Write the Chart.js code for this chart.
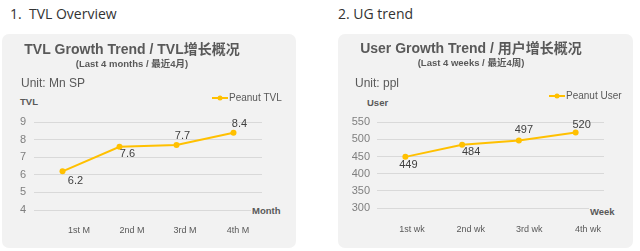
<!DOCTYPE html>
<html>
<head>
<meta charset="utf-8">
<script src="https://cdn.jsdelivr.net/npm/chart.js@4.4.1/dist/chart.umd.min.js"></script>
<style>
  html, body { margin: 0; padding: 0; background: #ffffff; }
  body { width: 640px; height: 251px; position: relative; overflow: hidden; }
  .heading { position: absolute; top: 4px; font-family: 'Open Sans', sans-serif; font-size: 14px; line-height: 20px; color: #333333; white-space: pre; }
  .panel { position: absolute; top: 34px; height: 214px; background: #f2f2f2; border-radius: 7px; }
  .panel canvas { position: absolute; left: 0; top: 0; }
  .txt { position: absolute; font-family: 'Liberation Sans', Arial, sans-serif; color: #595959; white-space: nowrap; }
  .unit { font-size: 12px; line-height: 14px; }
  .axt { font-size: 9.5px; line-height: 11px; font-weight: bold; background: #f2f2f2; padding: 0 1px; }
</style>
</head>
<body>
<div class="heading" style="left:10px;">1.  TVL Overview</div>
<div class="heading" style="left:338px;">2. UG trend</div>

<div class="panel" id="p1" style="left:2px; width:294px;">
  <canvas id="c1" width="300" height="214"></canvas>
  <div class="txt unit" style="left:19px; top:42px;">Unit: Mn SP</div>
  <div class="txt axt" style="left:17px; top:62px;">TVL</div>
  <div class="txt axt" style="left:249px; top:171px;">Month</div>
</div>

<div class="panel" id="p2" style="left:338px; width:295px;">
  <canvas id="c2" width="298" height="214"></canvas>
  <div class="txt unit" style="left:17px; top:42px;">Unit: ppl</div>
  <div class="txt axt" style="left:28px; top:63px;">User</div>
  <div class="txt axt" style="left:251px; top:172px;">Week</div>
</div>

<script>
// ---- data ----
const tvlCategories = ['1st M', '2nd M', '3rd M', '4th M'];
const tvlValues = [6.2, 7.6, 7.7, 8.4];
const tvlTicks = [4, 5, 6, 7, 8, 9];
const tvlSeriesName = 'Peanut TVL';

const userCategories = ['1st wk', '2nd wk', '3rd wk', '4th wk'];
const userValues = [449, 484, 497, 520];
const userTicks = [300, 350, 400, 450, 500, 550];
const userSeriesName = 'Peanut User';

// ---- style ----
const FONT = "'Liberation Sans', Arial, 'Noto Sans CJK SC', sans-serif";
const GOLD = '#FFC000';

const customPlugin = {
  id: 'custom',
  afterDatasetsDraw(chart, args, opts) {
    const ctx = chart.ctx;
    const meta = chart.getDatasetMeta(0);
    const ds = chart.data.datasets[0];
    ctx.save();
    // data labels
    ctx.font = '11px ' + FONT;
    ctx.fillStyle = '#404040';
    ctx.textAlign = 'center';
    ctx.textBaseline = 'middle';
    meta.data.forEach((pt, i) => {
      const off = opts.labelOffsets[i];
      ctx.fillText(String(ds.data[i]), pt.x + off[0], pt.y + off[1]);
    });
    // legend
    const lg = opts.legend;
    ctx.strokeStyle = GOLD;
    ctx.lineWidth = 2;
    ctx.beginPath();
    ctx.moveTo(lg.x, lg.y);
    ctx.lineTo(lg.x + lg.len, lg.y);
    ctx.stroke();
    ctx.fillStyle = GOLD;
    ctx.beginPath();
    ctx.arc(lg.x + lg.len / 2, lg.y, 2.5, 0, Math.PI * 2);
    ctx.fill();
    ctx.font = '10px ' + FONT;
    ctx.fillStyle = '#595959';
    ctx.textAlign = 'left';
    ctx.fillText(ds.label, lg.x + lg.len + 1, lg.y);
    ctx.restore();
  }
};

function makeChart(id, cfg) {
  const step = cfg.ticks[1] - cfg.ticks[0];
  return new Chart(document.getElementById(id), {
    type: 'line',
    data: {
      labels: cfg.categories,
      datasets: [{
        label: cfg.name,
        data: cfg.values,
        borderColor: GOLD,
        backgroundColor: GOLD,
        borderWidth: 2,
        pointRadius: 3,
        pointBorderWidth: 0,
        pointBackgroundColor: GOLD,
        tension: 0,
        clip: false
      }]
    },
    options: {
      responsive: false,
      animation: false,
      devicePixelRatio: 1,
      layout: { padding: { left: 0, right: cfg.padRight, top: 0, bottom: 0 } },
      plugins: {
        legend: { display: false },
        tooltip: { enabled: false },
        title: {
          display: true, text: cfg.title, color: '#595959',
          font: { family: FONT, size: 14, weight: 'bold' },
          padding: { top: cfg.titleTop, bottom: 0 }
        },
        subtitle: {
          display: true, text: cfg.subtitle, color: '#595959',
          font: { family: FONT, size: 9.5, weight: 'bold' },
          padding: { top: 0, bottom: cfg.subBottom }
        },
        custom: { labelOffsets: cfg.labelOffsets, legend: cfg.legend }
      },
      scales: {
        x: {
          type: 'category', offset: true,
          grid: { display: false, drawTicks: false },
          border: { display: false },
          ticks: { display: false },
          afterFit(s) { s.height = 0; }
        },
        xl: {
          type: 'linear', position: 'bottom', bounds: 'data',
          min: cfg.xlMin, max: cfg.xlMax,
          grid: { display: false, drawTicks: false },
          border: { display: false },
          afterBuildTicks(axis) { axis.ticks = cfg.categories.map((c, i) => ({ value: i + 1 })); },
          ticks: {
            autoSkip: false, maxRotation: 0, padding: cfg.xPad,
            color: '#595959', font: { family: FONT, size: 9 },
            callback: (v) => cfg.categories[v - 1]
          },
          afterFit(s) { s.height = cfg.xlHeight; }
        },
        y: {
          type: 'linear',
          min: cfg.ticks[0], max: cfg.ticks[cfg.ticks.length - 1],
          afterBuildTicks(axis) { axis.ticks = cfg.ticks.map(v => ({ value: v })); },
          grid: { color: '#d9d9d9', lineWidth: 1, drawTicks: false },
          border: { display: false },
          ticks: { stepSize: step, padding: cfg.yPad, color: '#7f7f7f', font: { family: FONT, size: 11 } },
          afterFit(s) { s.width = cfg.yWidth; }
        }
      }
    },
    plugins: [customPlugin]
  });
}

makeChart('c1', {
  categories: tvlCategories, values: tvlValues, ticks: tvlTicks, name: tvlSeriesName,
  title: 'TVL Growth Trend / TVL增长概况',
  subtitle: '(Last 4 months / 最近4月)',
  titleTop: 8, subBottom: 52, padRight: 40,
  yWidth: 32, yPad: 8, xlHeight: 38, xPad: 15,
  xlMin: 0.151, xlMax: 4.453,
  labelOffsets: [[13, 10], [8, 7], [6, -9], [6, -9]],
  legend: { x: 210, y: 64, len: 16 }
});

makeChart('c2', {
  categories: userCategories, values: userValues, ticks: userTicks, name: userSeriesName,
  title: 'User Growth Trend / 用户增长概况',
  subtitle: '(Last 4 weeks / 最近4周)',
  titleTop: 7, subBottom: 53, padRight: 32,
  yWidth: 39, yPad: 7, xlHeight: 40, xPad: 16,
  xlMin: 0.403, xlMax: 4.273,
  labelOffsets: [[3, 8], [9, 7], [5, -10], [6, -8]],
  legend: { x: 211, y: 62, len: 16 }
});
</script>
</body>
</html>
